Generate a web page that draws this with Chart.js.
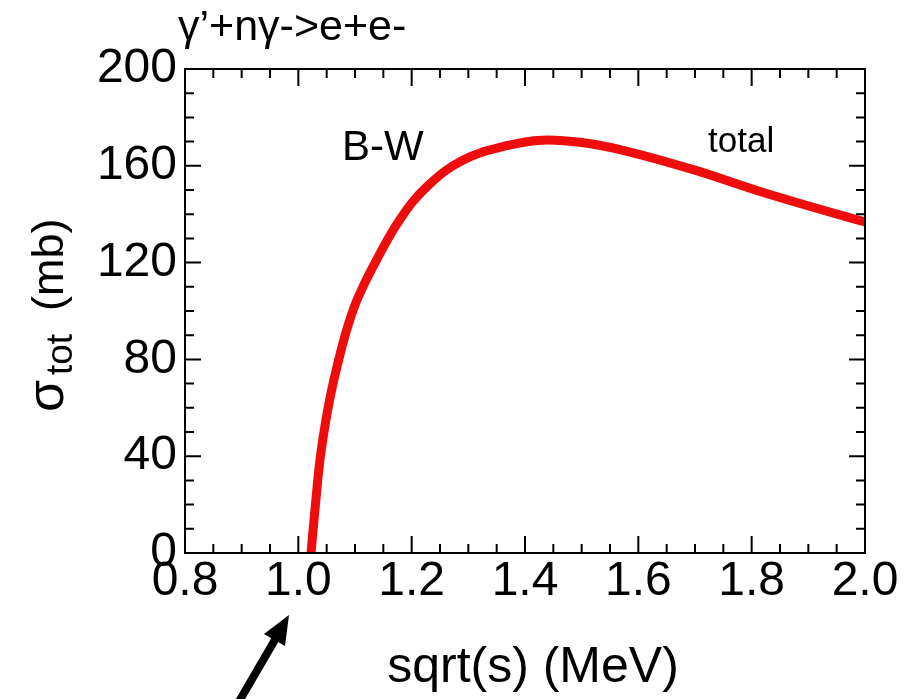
<!DOCTYPE html>
<html>
<head>
<meta charset="utf-8">
<script src="https://cdn.jsdelivr.net/npm/chart.js@4.4.0/dist/chart.umd.min.js"></script>
<style>
  html, body { margin: 0; padding: 0; background: #fff; }
</style>
</head>
<body>
<canvas id="chart" width="916" height="699"></canvas>
<script>
// values
const sqrtS = [1.0224, 1.031, 1.040, 1.056, 1.077, 1.091, 1.105, 1.132, 1.179, 1.227, 1.291, 1.368, 1.43, 1.50, 1.58, 1.697, 1.815, 1.933, 2.0];
const sigmaTot = [0, 22, 41.8, 64.2, 85.2, 96.4, 105.4, 118.4, 137.7, 151.4, 162.4, 168.3, 170.6, 169.6, 166, 158.4, 149.4, 141.2, 136.8];
const xTicks = [0.8, 1.0, 1.2, 1.4, 1.6, 1.8, 2.0];
const yTicks = [0, 40, 80, 120, 160, 200];

const FONT = '"Liberation Sans", Arial, Helvetica, sans-serif';

const points = sqrtS.map((v, i) => ({ x: v, y: sigmaTot[i] }));

// frame, inside ticks on all four sides, labels and arrow
const decor = {
  id: 'decor',
  afterDatasetsDraw(chart) {
    const { ctx, chartArea: a, scales: { x, y } } = chart;
    ctx.save();
    ctx.strokeStyle = '#000';
    ctx.lineWidth = 2;
    ctx.strokeRect(a.left, a.top, a.right - a.left, a.bottom - a.top);

    ctx.beginPath();
    for (let i = 0; i <= 24; i++) {
      const px = x.getPixelForValue(0.8 + i * 0.05);
      const len = i % 4 === 0 ? 17 : 9;
      ctx.moveTo(px, a.bottom); ctx.lineTo(px, a.bottom - len);
      ctx.moveTo(px, a.top); ctx.lineTo(px, a.top + len);
    }
    for (let i = 0; i <= 20; i++) {
      const py = y.getPixelForValue(i * 10);
      const len = i % 4 === 0 ? 16 : 9;
      ctx.moveTo(a.left, py); ctx.lineTo(a.left + len, py);
      ctx.moveTo(a.right, py); ctx.lineTo(a.right - len, py);
    }
    ctx.stroke();

    ctx.fillStyle = '#000';
    ctx.textBaseline = 'alphabetic';
    ctx.textAlign = 'left';
    ctx.font = '43px ' + FONT;
    ctx.fillText('γ’+nγ->e+e-', 178, 40);
    ctx.font = '42px ' + FONT;
    ctx.fillText('B-W', 342, 160);
    ctx.font = '35px ' + FONT;
    ctx.fillText('total', 708, 152);

    // x axis title
    ctx.textAlign = 'center';
    ctx.font = '50px ' + FONT;
    ctx.fillText('sqrt(s) (MeV)', 533, 682);
    ctx.textAlign = 'left';

    // y axis title with subscript
    ctx.save();
    ctx.translate(63, 412);
    ctx.rotate(-Math.PI / 2);
    ctx.font = '52px ' + FONT;
    ctx.fillText('σ', 0, 0);
    ctx.font = '37px ' + FONT;
    ctx.fillText('tot', 37, 9);
    ctx.font = '45px ' + FONT;
    ctx.fillText('(mb)', 101, 0);
    ctx.restore();

    // arrow
    ctx.lineWidth = 8;
    ctx.beginPath();
    ctx.moveTo(237, 705);
    ctx.lineTo(276, 638);
    ctx.stroke();
    ctx.beginPath();
    ctx.moveTo(289, 615);
    ctx.lineTo(285, 646);
    ctx.lineTo(264, 634);
    ctx.closePath();
    ctx.fill();
    ctx.restore();
  }
};

new Chart(document.getElementById('chart'), {
  type: 'line',
  data: {
    datasets: [{
      data: points,
      borderColor: 'rgb(238,12,12)',
      borderWidth: 9,
      pointRadius: 0,
      tension: 0.4,
      fill: false
    }]
  },
  options: {
    responsive: false,
    animation: false,
    devicePixelRatio: 1,
    layout: { padding: { left: 0, top: 69, right: 51, bottom: 0 } },
    plugins: { legend: { display: false }, tooltip: { enabled: false } },
    scales: {
      x: {
        type: 'linear',
        min: 0.8,
        max: 2.0,
        afterBuildTicks: s => { s.ticks = xTicks.map(v => ({ value: v })); },
        afterFit: s => { s.height = 146; },
        grid: { display: false, drawTicks: false },
        border: { display: false },
        ticks: {
          autoSkip: false,
          maxRotation: 0,
          padding: 0,
          color: '#000',
          font: { family: FONT, size: 48 },
          callback: v => Number(v).toFixed(1)
        }
      },
      y: {
        min: 0,
        max: 200,
        afterBuildTicks: s => { s.ticks = yTicks.map(v => ({ value: v })); },
        afterFit: s => { s.width = 185; },
        grid: { display: false, drawTicks: false },
        border: { display: false },
        ticks: {
          autoSkip: false,
          padding: 8,
          color: '#000',
          font: { family: FONT, size: 48 }
        }
      }
    }
  },
  plugins: [decor]
});
</script>
</body>
</html>
